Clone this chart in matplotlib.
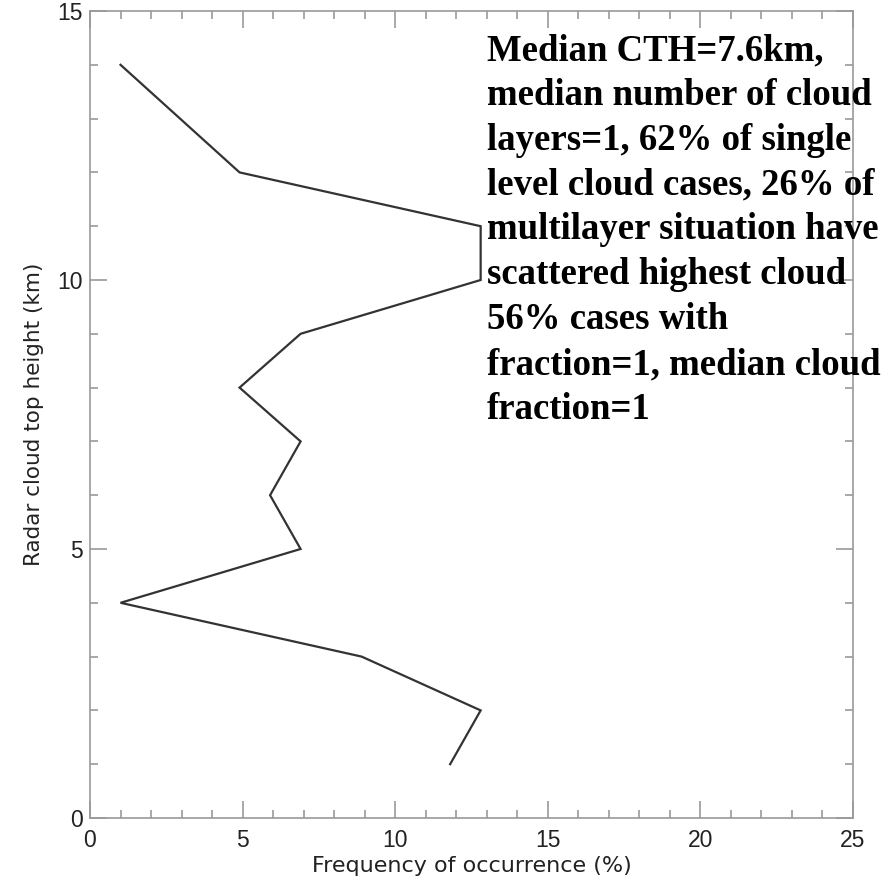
import matplotlib
matplotlib.use("Agg")
import matplotlib.pyplot as plt
from matplotlib.ticker import MultipleLocator

# Frequency of occurrence (%) per radar cloud top height bin (km)
height_km = [1, 2, 3, 4, 5, 6, 7, 8, 9, 10, 11, 12, 14]
freq_pct = [11.8, 12.8, 8.9, 1.0, 6.9, 5.9, 6.9, 4.9, 6.9, 12.8, 12.8, 4.9, 1.0]

note = ("Median CTH=7.6km,\n"
        "median number of cloud\n"
        "layers=1, 62% of single\n"
        "level cloud cases, 26% of\n"
        "multilayer situation have\n"
        "scattered highest cloud\n"
        "56% cases with\n"
        "fraction=1, median cloud\n"
        "fraction=1")

plt.rcParams['font.family'] = ['Liberation Sans', 'DejaVu Sans']

fig = plt.figure(figsize=(8.84, 8.82), dpi=100)
ax = fig.add_axes([90 / 884, 1 - 818 / 882, 763 / 884, 807 / 882])

ax.plot(freq_pct, height_km, color='#333333', lw=1.6, solid_joinstyle='miter')

ax.set_xlim(0, 25)
ax.set_ylim(0, 15)
ax.xaxis.set_major_locator(MultipleLocator(5))
ax.xaxis.set_minor_locator(MultipleLocator(1))
ax.yaxis.set_major_locator(MultipleLocator(5))
ax.yaxis.set_minor_locator(MultipleLocator(1))

gray = '#9a9a9a'
for s in ax.spines.values():
    s.set_color(gray)
    s.set_linewidth(1.2)
ax.tick_params(which='both', direction='in', top=True, right=True, color=gray, width=1.2)
ax.tick_params(which='major', length=12, labelsize=16.5, labelcolor='#222222')
ax.tick_params(which='minor', length=6)
ax.tick_params(axis='x', which='major', pad=8)
ax.tick_params(axis='y', which='major', pad=5)

ax.set_xlabel("Frequency of occurrence (%)", fontsize=16, family='DejaVu Sans',
              color='#222222', labelpad=3)
ax.set_ylabel("Radar cloud top height (km)", fontsize=15.5, family='DejaVu Sans',
              color='#222222', labelpad=10)

fig.text(487 / 884, 1 - 33 / 882, note, ha='left', va='top',
         family='Liberation Serif', fontweight='bold', fontsize=26.5,
         linespacing=1.365, color='black')

fig.savefig('out.png', dpi=100)
